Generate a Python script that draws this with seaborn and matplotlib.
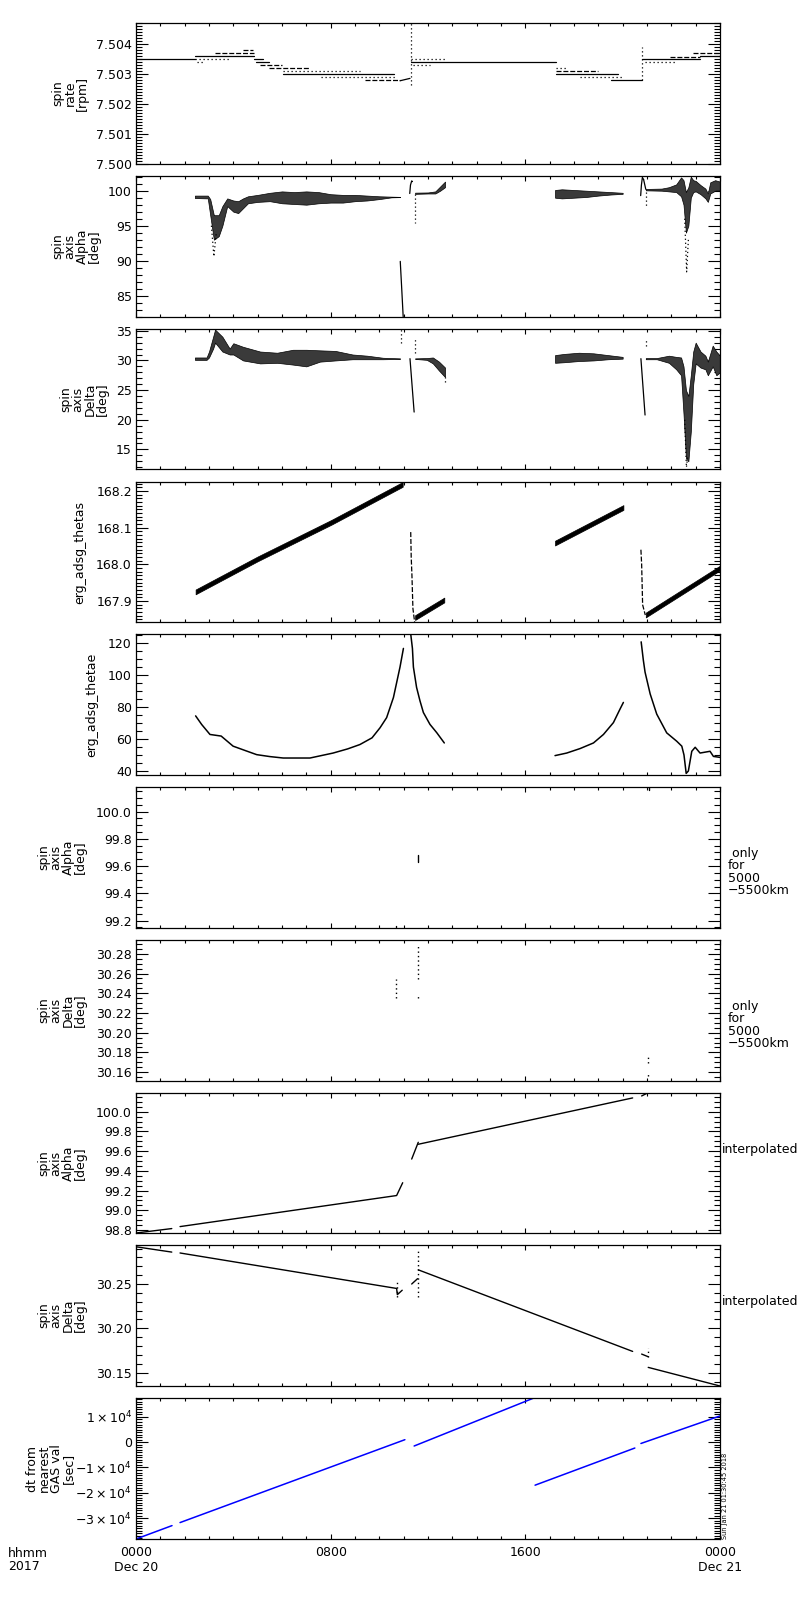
import numpy as np
import pandas as pd
import matplotlib
matplotlib.use("Agg")
import matplotlib.pyplot as plt
from matplotlib.ticker import MultipleLocator, FixedLocator, FixedFormatter, FormatStrFormatter
import seaborn as sns

sns.set_theme(style="ticks")
plt.rcParams['font.family'] = ['DejaVu Sans']
plt.rcParams['mathtext.fontset'] = 'custom'
plt.rcParams['mathtext.rm'] = 'DejaVu Sans'
plt.rcParams['mathtext.default'] = 'regular'
plt.rcParams['text.color'] = 'black'
plt.rcParams['xtick.color'] = 'black'
plt.rcParams['ytick.color'] = 'black'
plt.rcParams['xtick.labelcolor'] = 'black'
plt.rcParams['ytick.labelcolor'] = 'black'
plt.rcParams['axes.edgecolor'] = 'black'

# ---------------- DATA (hours since 2017-12-20 00:00) ----------------
# Panel 1: spin rate [rpm], horizontal runs (t0, t1, value, style)
spin_rate_runs = [
    (0.00, 2.42, 7.50349, 'solid'), (2.42, 4.85, 7.50359, 'solid'),
    (3.25, 4.85, 7.50370, 'dash'), (4.40, 4.80, 7.50380, 'dash'),
    (2.42, 3.86, 7.50349, 'dot'), (2.50, 2.75, 7.50340, 'dot'),
    (4.85, 5.20, 7.50350, 'solid'), (4.95, 5.45, 7.50340, 'solid'),
    (5.10, 6.00, 7.50330, 'dash'), (5.45, 7.10, 7.50320, 'dash'),
    (6.05, 9.20, 7.50310, 'dot'), (6.05, 10.60, 7.50300, 'solid'),
    (7.60, 10.70, 7.50290, 'dot'), (9.40, 10.85, 7.50279, 'dash'),
    (11.30, 17.26, 7.50340, 'solid'), (11.30, 12.70, 7.50350, 'dot'),
    (11.40, 12.10, 7.50330, 'dot'), (17.25, 17.75, 7.50320, 'dot'),
    (17.25, 19.00, 7.50310, 'dash'), (17.25, 19.80, 7.50300, 'solid'),
    (18.25, 20.00, 7.50289, 'dot'), (19.50, 20.80, 7.50279, 'solid'),
    (20.78, 23.18, 7.50350, 'solid'), (20.92, 22.22, 7.50340, 'dot'),
    (21.95, 23.18, 7.50358, 'dash'), (23.18, 24.00, 7.50360, 'solid'),
    (22.90, 24.00, 7.50370, 'dash'),
]
spin_rate_ramp_t = [10.85, 11.26]
spin_rate_ramp_v = [7.50277, 7.50285]
spin_rate_jumps = [(11.30, 7.50262, 7.50470), (20.80, 7.50279, 7.50391)]

# Panel 2: spin axis Alpha [deg] - scatter bands (t, lower, upper)
alpha_bandA_t = [2.42, 2.95, 3.05, 3.2, 3.4, 3.55, 3.75, 4.0, 4.2, 4.4, 4.6, 5.0, 5.5, 6.0, 6.5, 7.0, 7.5, 8.0, 8.5, 9.0, 9.5, 10.0, 10.5, 10.85]
alpha_bandA_hi = [99.3, 99.3, 98.8, 96.5, 96.5, 97.8, 98.9, 98.6, 98.5, 98.9, 99.2, 99.4, 99.7, 99.9, 99.8, 99.9, 99.8, 99.5, 99.4, 99.4, 99.3, 99.2, 99.15, 99.12]
alpha_bandA_lo = [98.95, 98.9, 96.5, 93.0, 93.5, 95.0, 97.8, 97.0, 96.8, 97.5, 98.2, 98.4, 98.5, 98.2, 98.1, 98.0, 98.2, 98.3, 98.3, 98.5, 98.6, 98.8, 99.05, 99.08]
alpha_bandB_t = [11.47, 12.0, 12.3, 12.5, 12.7]
alpha_bandB_hi = [99.72, 99.75, 99.9, 100.6, 101.3]
alpha_bandB_lo = [99.55, 99.6, 99.6, 100.0, 100.5]
alpha_bandC_t = [17.22, 17.5, 18.0, 18.5, 19.0, 19.5, 20.0]
alpha_bandC_hi = [100.1, 100.2, 100.1, 100.0, 99.9, 99.8, 99.7]
alpha_bandC_lo = [99.0, 98.9, 99.0, 99.1, 99.3, 99.45, 99.55]
alpha_bandD_t = [20.95, 21.6, 21.9, 22.2, 22.4, 22.5, 22.6, 22.7, 22.8, 22.9, 23.0, 23.2, 23.4, 23.5, 23.6, 23.8, 24.0]
alpha_bandD_hi = [100.25, 100.3, 100.5, 100.9, 101.9, 101.5, 99.8, 100.5, 102.0, 101.5, 101.4, 100.8, 100.3, 99.6, 101.2, 101.5, 101.3]
alpha_bandD_lo = [100.05, 100.0, 99.9, 99.8, 99.2, 98.0, 94.0, 95.0, 99.0, 99.8, 99.9, 99.5, 98.9, 98.4, 99.6, 100.0, 100.1]
alpha_lines = [
    ([10.86, 10.92, 10.98], [89.9, 86.0, 82.0]),
    ([11.25, 11.28, 11.33, 11.36], [99.6, 100.8, 101.4, 101.3]),
    ([20.74, 20.77, 20.81, 20.86], [99.3, 100.8, 101.9, 101.6]),
    ([20.86, 20.95], [101.6, 100.2]),
]
alpha_dots = [
    ([3.1, 3.2, 3.3], [95.0, 90.6, 94.0]),
    ([11.47, 11.47], [99.5, 95.4]),
    ([20.95, 20.95], [99.8, 97.5]),
    ([22.55, 22.63, 22.70], [96.0, 88.4, 93.0]),
]

# Panel 3: spin axis Delta [deg]
delta_bandA_t = [2.42, 2.9, 3.0, 3.17, 3.25, 3.55, 3.85, 4.0, 4.4, 5.1, 5.8, 6.45, 7.0, 7.56, 8.2, 8.9, 9.5, 10.15, 10.85]
delta_bandA_hi = [30.5, 30.5, 31.5, 34.0, 35.2, 34.0, 32.0, 32.9, 32.3, 31.5, 31.3, 31.8, 31.8, 31.7, 31.6, 31.0, 30.8, 30.45, 30.35]
delta_bandA_lo = [30.1, 30.1, 30.5, 32.0, 33.0, 31.5, 31.0, 31.0, 30.0, 29.5, 29.6, 29.3, 29.0, 29.8, 30.0, 30.2, 30.2, 30.2, 30.25]
delta_bandB_t = [11.47, 11.95, 12.2, 12.45, 12.7]
delta_bandB_hi = [30.35, 30.4, 30.5, 29.8, 28.8]
delta_bandB_lo = [30.25, 30.1, 29.5, 28.3, 27.2]
delta_bandC_t = [17.22, 17.6, 18.2, 18.8, 19.4, 20.0]
delta_bandC_hi = [30.9, 31.1, 31.3, 31.2, 30.9, 30.6]
delta_bandC_lo = [29.6, 29.7, 29.9, 30.0, 30.2, 30.3]
delta_bandD_t = [20.95, 21.4, 21.9, 22.2, 22.4, 22.5, 22.6, 22.7, 22.8, 22.9, 23.0, 23.2, 23.4, 23.5, 23.7, 23.85, 24.0]
delta_bandD_hi = [30.4, 30.4, 30.8, 30.6, 30.5, 29.0, 25.0, 24.0, 27.5, 31.5, 33.0, 31.5, 30.8, 29.8, 32.5, 31.5, 30.8]
delta_bandD_lo = [30.2, 30.2, 29.6, 28.5, 27.5, 21.0, 13.5, 13.0, 18.0, 26.0, 29.5, 28.8, 28.5, 27.5, 29.0, 27.5, 28.0]
delta_lines = [
    ([11.26, 11.43], [30.3, 21.3]),
    ([20.75, 20.92], [30.3, 20.8]),
]
delta_dots = [
    ([10.90, 10.90], [33.0, 35.3]),
    ([11.47, 11.47], [31.3, 34.0]),
    ([20.95, 20.95], [32.5, 33.5]),
    ([12.70, 12.70], [26.4, 27.2]),
    ([22.55, 22.62, 22.68], [20.0, 12.0, 14.0]),
]

# Panel 4: erg_adsg_thetas (sawtooth band, centre lines)
thetas_segs = [
    ([2.45, 5.0, 8.04, 10.96], [167.925, 168.015, 168.115, 168.218]),
    ([11.47, 12.67], [167.855, 167.903]),
    ([17.22, 20.03], [168.058, 168.155]),
    ([20.95, 24.0], [167.862, 167.990]),
]
thetas_halfwidth = 0.0065
thetas_drops = [
    ([11.29, 11.31, 11.34, 11.38, 11.45], [168.088, 168.02, 167.97, 167.88, 167.843]),
    ([20.75, 20.78, 20.82, 20.93], [168.04, 168.0, 167.89, 167.862]),
]

# Panel 5: erg_adsg_thetae
thetae_segs = [
    ([2.45, 2.7, 3.04, 3.5, 3.99, 4.5, 4.96, 5.5, 6.05, 7.15, 8.1, 8.7, 9.2, 9.7, 10.03, 10.3, 10.58, 10.85, 10.99],
     [74.4, 69.0, 62.8, 61.8, 55.5, 52.7, 50.2, 49.0, 48.1, 48.1, 51.2, 53.8, 56.5, 60.7, 67.0, 73.3, 85.9, 104.9, 116.5]),
    ([11.29, 11.36, 11.40, 11.53, 11.67, 11.81, 12.08, 12.36, 12.67],
     [125.5, 116.5, 104.9, 92.2, 83.8, 76.5, 69.1, 63.9, 57.5]),
    ([17.22, 17.70, 18.25, 18.80, 19.21, 19.62, 19.89, 20.03],
     [49.6, 51.2, 54.0, 57.5, 62.8, 70.2, 78.6, 82.8]),
    ([20.76, 20.85, 20.92, 21.13, 21.40, 21.81, 22.22, 22.43, 22.52, 22.61, 22.70, 22.84, 22.98, 23.18, 23.59, 23.73, 24.0],
     [120.6, 109.1, 101.7, 88.1, 75.5, 63.8, 58.6, 55.5, 50.0, 38.5, 40.0, 52.3, 54.8, 51.2, 52.3, 49.1, 48.5]),
]

# Panel 6: Alpha only for 5000-5500 km
alpha_only_dots = [([11.60, 11.60], [99.63, 99.68]), ([21.10, 21.10], [100.16, 100.18]),
                   ([10.70, 10.70], [99.15, 99.16])]
# Panel 7: Delta only for 5000-5500 km
delta_only_dots = [([10.70, 10.70], [30.235, 30.254]), ([11.60, 11.60], [30.254, 30.289]),
                   ([11.60, 11.60], [30.235, 30.237]), ([21.05, 21.05], [30.169, 30.176]),
                   ([21.05, 21.05], [30.156, 30.158])]

# Panel 8: Alpha interpolated
alpha_interp_segs = [
    ([0.0, 1.47], [98.77, 98.815]),
    ([1.81, 10.71, 10.96], [98.835, 99.15, 99.28]),
    ([11.33, 11.60], [99.52, 99.69]),
    ([11.60, 20.41], [99.67, 100.14]),
    ([20.78, 21.10], [100.16, 100.20]),
]
# Panel 9: Delta interpolated
delta_interp_segs = [
    ([0.0, 1.47], [30.292, 30.286]),
    ([1.81, 10.71], [30.285, 30.245]),
    ([10.71, 10.74, 10.94], [30.245, 30.238, 30.243]),
    ([11.33, 11.57], [30.250, 30.256]),
    ([11.60, 20.41], [30.266, 30.174]),
    ([20.78, 21.05], [30.171, 30.168]),
    ([21.05, 24.0], [30.156, 30.135]),
]
delta_interp_dots = [([10.71, 10.71], [30.235, 30.252]), ([11.60, 11.60], [30.235, 30.290]),
                     ([21.05, 21.05], [30.168, 30.178])]

# Panel 10: dt from nearest GAS val [sec]
dt_segs = [
    ([0.0, 1.48], [-38300, -33000]),
    ([1.81, 11.05], [-31800, 1000]),
    ([11.43, 16.35], [-1500, 17500]),
    ([16.40, 20.50], [-17000, -2300]),
    ([20.75, 24.0], [-500, 10400]),
]

# axis settings
ylims = [(7.49999, 7.5047), (81.95, 102.1), (11.7, 35.3), (167.843, 168.2245), (37.5, 125.5),
         (99.146, 100.18), (30.151, 30.294), (98.77, 100.19), (30.135, 30.294), (-38300, 17500)]
ymajor = [0.001, 5, 5, 0.1, 20, 0.2, 0.02, 0.2, 0.05, 10000]
yminor = [0.0001, 1, 1, 0.01, 5, 0.05, 0.005, 0.05, 0.01, 1000]
yfmt = ['%.3f', '%d', '%d', '%.1f', '%d', '%.1f', '%.2f', '%.1f', '%.2f', None]
ylabels = ['spin\nrate\n[rpm]', 'spin\naxis\nAlpha\n[deg]', 'spin\naxis\nDelta\n[deg]',
           'erg_adsg_thetas', 'erg_adsg_thetae', 'spin\naxis\nAlpha\n[deg]',
           'spin\naxis\nDelta\n[deg]', 'spin\naxis\nAlpha\n[deg]', 'spin\naxis\nDelta\n[deg]',
           'dt from\nnearest\nGAS val\n[sec]']
dt_ticks = [-30000, -20000, -10000, 0, 10000]
dt_ticklabels = [r'$-3\times10^{4}$', r'$-2\times10^{4}$', r'$-1\times10^{4}$', '0', r'$1\times10^{4}$']
xtick_hours = [0, 8, 16, 24]
xtick_labels = ['0000\nDec 20', '0800', '1600', '0000\nDec 21']

# ---------------- LAYOUT ----------------
W, H = 800, 1600
L, R = 136, 720
tops = [23, 176, 329, 482, 634, 787, 940, 1093, 1245, 1398]
bots = [164, 317, 469, 622, 775, 928, 1081, 1233, 1386, 1539]
ylab_x = [70, 76, 84, 80, 92, 62, 62, 62, 62, 50]
FS = 9
LW = 0.9
BAND = '#3a3a3a'

fig = plt.figure(figsize=(W / 100, H / 100), dpi=100)
fig.patch.set_facecolor('white')

STY = {'solid': '-', 'dash': (0, (4, 1.5)), 'dot': (0, (1, 2.2))}


def draw_lines(ax, segs, color='black', lw=LW, ls='-'):
    rows = []
    for i, (t, v) in enumerate(segs):
        for a, b in zip(t, v):
            rows.append((i, a, b))
    df = pd.DataFrame(rows, columns=['seg', 't', 'v'])
    sns.lineplot(data=df, x='t', y='v', units='seg', estimator=None, sort=False,
                 color=color, lw=lw, linestyle=ls, ax=ax, legend=False)


def draw_band(ax, t, lo, hi, color=BAND):
    ax.fill_between(t, lo, hi, facecolor=color, lw=0.5, edgecolor='black')


axes = []
for i, (t, b) in enumerate(zip(tops, bots)):
    ax = fig.add_axes([L / W, 1 - b / H, (R - L) / W, (b - t) / H])
    ax.set_facecolor('white')
    axes.append(ax)

# ---- data ----
ax = axes[0]
for style in ['solid', 'dash', 'dot']:
    segs = [([a, b], [v, v]) for (a, b, v, s) in spin_rate_runs if s == style]
    draw_lines(ax, segs, ls=STY[style])
draw_lines(ax, [(spin_rate_ramp_t, spin_rate_ramp_v)])
draw_lines(ax, [([tt, tt], [v0, v1]) for (tt, v0, v1) in spin_rate_jumps], ls=STY['dot'])

ax = axes[1]
draw_band(ax, alpha_bandA_t, alpha_bandA_lo, alpha_bandA_hi)
draw_band(ax, alpha_bandB_t, alpha_bandB_lo, alpha_bandB_hi)
draw_band(ax, alpha_bandC_t, alpha_bandC_lo, alpha_bandC_hi)
draw_band(ax, alpha_bandD_t, alpha_bandD_lo, alpha_bandD_hi)
draw_lines(ax, alpha_lines)
draw_lines(ax, alpha_dots, ls=STY['dot'])

ax = axes[2]
draw_band(ax, delta_bandA_t, delta_bandA_lo, delta_bandA_hi)
draw_band(ax, delta_bandB_t, delta_bandB_lo, delta_bandB_hi)
draw_band(ax, delta_bandC_t, delta_bandC_lo, delta_bandC_hi)
draw_band(ax, delta_bandD_t, delta_bandD_lo, delta_bandD_hi)
draw_lines(ax, delta_lines)
draw_lines(ax, delta_dots, ls=STY['dot'])

ax = axes[3]
for (t, v) in thetas_segs:
    v = np.asarray(v)
    draw_band(ax, t, v - thetas_halfwidth, v + thetas_halfwidth, color='black')
draw_lines(ax, thetas_drops, ls=STY['dash'])

draw_lines(axes[4], thetae_segs, lw=1.1)
draw_lines(axes[5], alpha_only_dots, lw=1.0)
draw_lines(axes[6], delta_only_dots, ls=STY['dot'], lw=1.0)
draw_lines(axes[7], alpha_interp_segs, lw=1.0)
draw_lines(axes[8], delta_interp_segs, lw=1.0)
draw_lines(axes[8], delta_interp_dots, ls=STY['dot'], lw=1.0)
draw_lines(axes[9], dt_segs, color='#0000ff', lw=1.1)

# ---- axes styling (after seaborn) ----
for i, ax in enumerate(axes):
    t, b = tops[i], bots[i]
    ax.set_xlim(0, 24)
    ax.set_ylim(*ylims[i])
    for s in ax.spines.values():
        s.set_visible(True)
        s.set_color('black')
        s.set_linewidth(0.9)
    ax.xaxis.set_major_locator(FixedLocator(xtick_hours))
    ax.xaxis.set_minor_locator(MultipleLocator(1))
    if i == 9:
        ax.yaxis.set_major_locator(FixedLocator(dt_ticks))
        ax.yaxis.set_major_formatter(FixedFormatter(dt_ticklabels))
    else:
        ax.yaxis.set_major_locator(MultipleLocator(ymajor[i]))
        ax.yaxis.set_major_formatter(FormatStrFormatter(yfmt[i]))
    ax.yaxis.set_minor_locator(MultipleLocator(yminor[i]))
    ax.tick_params(axis='x', which='major', direction='in', length=3.5, width=0.8,
                   top=True, bottom=True, color='black', labelcolor='black', labelsize=FS, pad=5)
    ax.tick_params(axis='x', which='minor', direction='in', length=2.0, width=0.8,
                   top=True, bottom=True, color='black')
    ax.tick_params(axis='y', which='major', direction='in', length=8.5, width=0.8,
                   left=True, right=True, color='black', labelcolor='black', labelsize=FS, pad=3)
    ax.tick_params(axis='y', which='minor', direction='in', length=4.5, width=0.8,
                   left=True, right=True, color='black')
    if i == 9:
        ax.set_xticklabels(xtick_labels)
    else:
        ax.tick_params(axis='x', labelbottom=False)
    ax.set_xlabel('')
    ax.set_ylabel('')
    fig.text(ylab_x[i] / W, 1 - ((t + b) / 2) / H, ylabels[i], rotation=90,
             ha='center', va='center', multialignment='center', fontsize=FS,
             linespacing=0.9, color='black')

# right-hand labels
for i in (5, 6):
    fig.text(728 / W, 1 - (tops[i] + 85) / H, ' only\nfor\n5000\n\u22125500km', ha='left',
             va='center', fontsize=FS, linespacing=0.95, color='black')
for i in (7, 8):
    fig.text(722 / W, 1 - (tops[i] + 57) / H, 'interpolated', ha='left', va='center',
             fontsize=FS, color='black')

fig.text(8 / W, 1 - 1547 / H, 'hhmm\n2017', ha='left', va='top', fontsize=FS, linespacing=0.95,
         color='black')
fig.text(722 / W, 1 - 1539 / H, 'Sun Jan 21 01:30:45 2018', rotation=90, ha='left', va='bottom',
         fontsize=4.8, color='black')

fig.savefig('out.png', dpi=100, facecolor='white')
